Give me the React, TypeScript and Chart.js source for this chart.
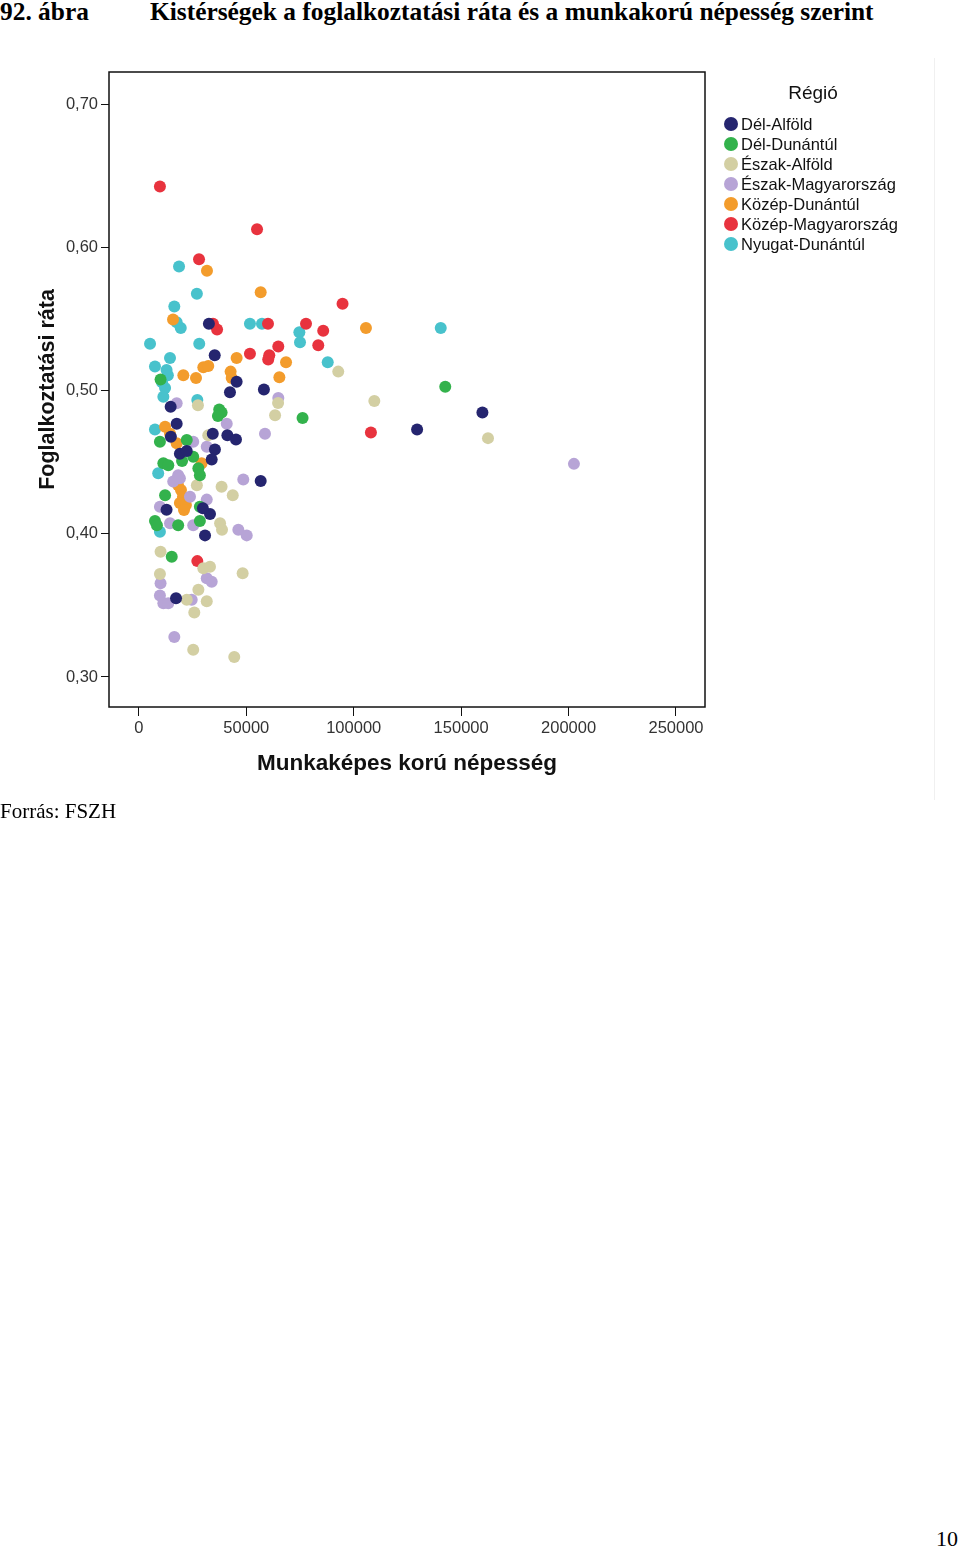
import React, { useEffect, useRef } from 'react';
import { Chart, registerables } from 'chart.js';

Chart.register(...registerables);

// ---- Data (x: munkaképes korú népesség, y: foglalkoztatási ráta) ----
const regionNames = [
  'Dél-Alföld',
  'Dél-Dunántúl',
  'Észak-Alföld',
  'Észak-Magyarország',
  'Közép-Dunántúl',
  'Közép-Magyarország',
  'Nyugat-Dunántúl',
];

const regionColors = ['#25256f', '#33b24c', '#d3cfa3', '#b7a4d6', '#f39c2c', '#e8333e', '#48c2cc'];

const delAlfold: [number, number][] = [
  [32600, 0.547], [35300, 0.525], [45500, 0.5065], [42400, 0.499], [58200, 0.501],
  [14800, 0.489], [17600, 0.477], [34400, 0.47], [41200, 0.469], [45200, 0.466],
  [19100, 0.456], [22300, 0.458], [35400, 0.459], [33900, 0.452], [56700, 0.437],
  [12900, 0.417], [33100, 0.414], [30800, 0.399], [17300, 0.355], [159900, 0.485],
  [129500, 0.473], [14900, 0.468], [29800, 0.418],
];

const delDunantul: [number, number][] = [
  [10100, 0.508], [37400, 0.487], [38500, 0.485], [36800, 0.4825], [76200, 0.481],
  [142600, 0.503], [9800, 0.4645], [22300, 0.4657], [25300, 0.454], [11400, 0.4494],
  [13700, 0.448], [27700, 0.446], [28400, 0.441], [12200, 0.427], [7500, 0.409],
  [18300, 0.406], [28400, 0.409], [15300, 0.384], [20100, 0.451], [8400, 0.406],
  [28400, 0.419],
];

const eszakAlfold: [number, number][] = [
  [64800, 0.4916], [63400, 0.483], [92800, 0.5135], [109600, 0.493], [162500, 0.467],
  [32300, 0.469], [38500, 0.433], [43700, 0.427], [37800, 0.4075], [10100, 0.3876],
  [30000, 0.376], [33100, 0.377], [48300, 0.3725], [9800, 0.372], [27700, 0.361],
  [22300, 0.354], [31600, 0.353], [25800, 0.345], [25300, 0.319], [44400, 0.314],
  [27500, 0.49], [38700, 0.403], [27000, 0.434],
];

const eszakMagyarorszag: [number, number][] = [
  [64900, 0.495], [17600, 0.4914], [40900, 0.477], [58700, 0.47], [25300, 0.4645],
  [31600, 0.461], [18300, 0.441], [16000, 0.4366], [48600, 0.438], [9800, 0.419],
  [31600, 0.424], [14500, 0.4075], [25300, 0.406], [46300, 0.403], [50200, 0.399],
  [10100, 0.3655], [31600, 0.369], [33900, 0.3666], [9800, 0.357], [11400, 0.3515],
  [13700, 0.3515], [24600, 0.354], [16500, 0.328], [202500, 0.449], [23800, 0.426],
  [19100, 0.439],
];

const kozepDunantul: [number, number][] = [
  [31700, 0.584], [56700, 0.569], [105700, 0.544], [15900, 0.55], [45500, 0.523],
  [68500, 0.52], [20700, 0.511], [26600, 0.509], [30000, 0.5166], [32300, 0.5175],
  [42700, 0.5135], [43200, 0.509], [65400, 0.5096], [12200, 0.475], [14500, 0.47],
  [17600, 0.4634], [29200, 0.4494], [18200, 0.4343], [19600, 0.4308], [20500, 0.4259],
  [19100, 0.4217], [21900, 0.4203], [21000, 0.4168],
];

const kozepMagyarorszag: [number, number][] = [
  [9800, 0.643], [55000, 0.613], [28000, 0.592], [34500, 0.547], [36400, 0.543],
  [60100, 0.547], [94800, 0.561], [77800, 0.547], [85800, 0.542], [83500, 0.532],
  [64900, 0.531], [51700, 0.526], [60700, 0.525], [60200, 0.522], [108000, 0.471],
  [27200, 0.381],
];

const nyugatDunantul: [number, number][] = [
  [18700, 0.587], [27000, 0.568], [16500, 0.559], [17600, 0.548], [19500, 0.544],
  [51700, 0.547], [57300, 0.547], [5200, 0.533], [28100, 0.533], [14500, 0.523],
  [7500, 0.517], [12900, 0.5147], [13500, 0.511], [12200, 0.502], [11400, 0.496],
  [27200, 0.4937], [74700, 0.541], [75000, 0.534], [87900, 0.52], [140500, 0.544],
  [7500, 0.473], [9000, 0.4424], [9800, 0.4016], [10800, 0.506],
];

const regionData = [
  delAlfold, delDunantul, eszakAlfold, eszakMagyarorszag,
  kozepDunantul, kozepMagyarorszag, nyugatDunantul,
];

const xTicks = [0, 50000, 100000, 150000, 200000, 250000];
const yTicks = [0.3, 0.4, 0.5, 0.6, 0.7];
const xRange = [-13900, 263500];
const yRange = [0.279, 0.723];

const titleNumber = '92. ábra';
const titleText = 'Kistérségek a foglalkoztatási ráta és a munkakorú népesség szerint';
const xTitle = 'Munkaképes korú népesség';
const yTitle = 'Foglalkoztatási ráta';
const legendTitle = 'Régió';
const sourceText = 'Forrás: FSZH';
const pageNumber = '10';

const framePlugin = {
  id: 'frame',
  beforeDatasetsDraw(chart: any) {
    const { ctx, chartArea: a } = chart;
    ctx.save();
    ctx.strokeStyle = '#111';
    ctx.lineWidth = 1.5;
    ctx.strokeRect(a.left, a.top, a.right - a.left, a.bottom - a.top);
    ctx.restore();
  },
};

function ScatterChart() {
  const ref = useRef<HTMLCanvasElement | null>(null);
  useEffect(() => {
    if (!ref.current) return;
    const chart = new Chart(ref.current, {
      type: 'scatter',
      data: {
        datasets: regionNames.map((name, i) => ({
          label: name,
          data: regionData[i].map(([x, y]) => ({ x, y })),
          backgroundColor: regionColors[i],
          borderColor: regionColors[i],
          borderWidth: 0,
          pointRadius: 6,
          pointHoverRadius: 6,
        })),
      },
      options: {
        animation: false,
        responsive: false,
        events: [],
        layout: { padding: { top: 32, left: 0, right: 255, bottom: 23 } },
        plugins: { legend: { display: false }, tooltip: { enabled: false } },
        scales: {
          x: {
            type: 'linear',
            min: xRange[0],
            max: xRange[1],
            afterBuildTicks: (axis: any) => { axis.ticks = xTicks.map((v) => ({ value: v })); },
            afterFit: (axis: any) => { axis.height = 70; },
            grid: { drawOnChartArea: false, drawTicks: true, tickLength: 9, color: '#111', lineWidth: 1 },
            border: { display: false },
            ticks: {
              padding: 3,
              color: '#333',
              font: { family: '"Liberation Sans", Arial, sans-serif', size: 16.5 },
              callback: (v: any) => String(v),
              maxRotation: 0,
            },
            title: {
              display: true,
              text: xTitle,
              color: '#111',
              font: { family: '"Liberation Sans", Arial, sans-serif', size: 22.5, weight: 'bold' },
              padding: { top: 0, bottom: 0 },
            },
          },
          y: {
            type: 'linear',
            min: yRange[0],
            max: yRange[1],
            afterBuildTicks: (axis: any) => { axis.ticks = yTicks.map((v) => ({ value: v })); },
            afterFit: (axis: any) => { axis.width = 109; },
            grid: { drawOnChartArea: false, drawTicks: true, tickLength: 8, color: '#111', lineWidth: 1 },
            border: { display: false },
            ticks: {
              padding: 3,
              color: '#333',
              font: { family: '"Liberation Sans", Arial, sans-serif', size: 16.5 },
              callback: (v: any) => Number(v).toFixed(2).replace('.', ','),
            },
            title: {
              display: true,
              text: yTitle,
              color: '#111',
              font: { family: '"Liberation Sans", Arial, sans-serif', size: 21.5, weight: 'bold' },
              padding: { top: 35, bottom: 0 },
            },
          },
        },
      },
      plugins: [framePlugin],
    });
    return () => chart.destroy();
  }, []);
  return <canvas ref={ref} width={960} height={760} style={{ display: 'block', width: 960, height: 760 }} />;
}

export default function App() {
  const serif = '"Liberation Serif", "Times New Roman", serif';
  const sans = '"Liberation Sans", Arial, sans-serif';
  return (
    <div style={{ position: 'absolute', left: 0, top: 0, width: 960, height: 1550, background: '#fff', overflow: 'hidden' }}>
      <div style={{ position: 'absolute', left: 0, top: -1, fontFamily: serif, fontWeight: 'bold', fontSize: 25.4, whiteSpace: 'nowrap', lineHeight: '25px' }}>
        <span style={{ position: 'absolute', left: 0 }}>{titleNumber}</span>
        <span style={{ position: 'absolute', left: 150 }}>{titleText}</span>
      </div>
      <div style={{ position: 'absolute', left: 0, top: 40 }}>
        <ScatterChart />
      </div>
      <div style={{ position: 'absolute', left: 934, top: 58, width: 1, height: 742, background: '#f0f0f0' }} />
      <div style={{ position: 'absolute', left: 720, top: 80, width: 200, fontFamily: sans, color: '#111' }}>
        <div style={{ position: 'absolute', left: 0, width: 186, textAlign: 'center', top: 0, fontSize: 19, lineHeight: '26px' }}>{legendTitle}</div>
        {regionNames.map((name, i) => (
          <div key={name} style={{ position: 'absolute', left: 4, top: 34 + i * 20, height: 20, display: 'flex', alignItems: 'center', whiteSpace: 'nowrap' }}>
            <span style={{ display: 'inline-block', width: 14, height: 14, borderRadius: 7, background: regionColors[i], marginRight: 3 }} />
            <span style={{ fontSize: 16.5 }}>{name}</span>
          </div>
        ))}
      </div>
      <div style={{ position: 'absolute', left: 0, top: 798, fontFamily: serif, fontSize: 21, lineHeight: '26px', whiteSpace: 'nowrap' }}>{sourceText}</div>
      <div style={{ position: 'absolute', left: 936, top: 1526, fontFamily: serif, fontSize: 22, lineHeight: '26px' }}>{pageNumber}</div>
    </div>
  );
}
